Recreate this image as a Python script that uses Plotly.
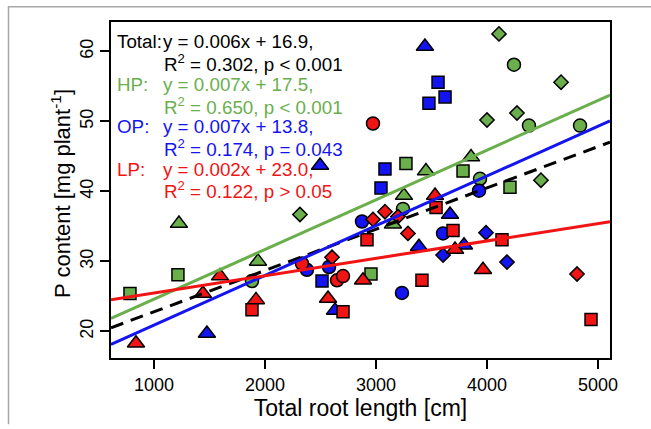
import plotly.graph_objects as go

# ---- data: total root length [cm] vs P content [mg plant-1] ----
hp_root = [4108, 4243, 4667, 4000, 4270, 4378, 4838, 3270, 3450, 3856, 3784, 3937,
           4207, 4486, 3252, 3243, 3153, 2315, 1225, 1937, 1883, 1216, 784, 2955]
hp_p = [62.5, 58.1, 55.6, 50.2, 51.2, 49.4, 49.4, 44.0, 42.9, 44.9, 42.9, 41.8,
        40.6, 41.6, 39.4, 37.5, 35.3, 36.7, 35.4, 30.0, 27.2, 28.1, 25.4, 28.2]
hp_shape = ["diamond", "circle", "diamond", "diamond", "diamond", "circle", "circle",
            "square", "triangle-up", "triangle-up", "square", "circle", "square",
            "diamond", "triangle-up", "circle", "triangle-up", "diamond",
            "triangle-up", "triangle-up", "circle", "square", "square", "square"]

op_root = [3441, 3559, 3622, 3477, 3081, 3045, 3928, 2874, 3667, 3604, 3991, 3387,
           3793, 3604, 4180, 3234, 2378, 2577, 2514, 2631, 1477, 2496]
op_p = [60.7, 55.6, 53.5, 52.6, 43.2, 40.5, 40.1, 35.7, 36.7, 34.0, 34.1, 32.1,
        32.3, 30.9, 29.9, 25.5, 28.8, 29.2, 27.2, 23.0, 19.7, 43.7]
op_shape = ["triangle-up", "square", "square", "square", "square", "square", "circle",
            "circle", "triangle-up", "circle", "diamond", "triangle-up", "triangle-up",
            "diamond", "diamond", "circle", "circle", "circle", "square",
            "triangle-up", "triangle-up", "triangle-up"]

lp_root = [2973, 3532, 3541, 2973, 3081, 3198, 3288, 2919, 3694, 4135, 3712, 3964,
           4811, 2883, 3414, 4937, 2333, 2604, 2649, 2703, 2568, 2703, 1919, 1883,
           1595, 1441, 838]
lp_p = [49.7, 39.4, 37.7, 36.0, 37.1, 36.4, 34.0, 33.1, 34.4, 33.1, 31.7, 28.8,
        28.2, 27.3, 27.3, 21.7, 29.7, 30.6, 27.3, 27.9, 24.7, 22.8, 24.5, 23.1,
        27.9, 25.4, 18.3]
lp_shape = ["circle", "triangle-up", "square", "diamond", "diamond", "diamond", "diamond",
            "square", "square", "square", "triangle-up", "triangle-up", "diamond",
            "triangle-up", "square", "square", "circle", "diamond", "circle", "circle",
            "triangle-up", "square", "triangle-up", "square", "triangle-up",
            "triangle-up", "triangle-up"]

# regression fits (slope, intercept)
fit_names = ["Total", "HP", "OP", "LP"]
fit_slope = [0.0059, 0.0071, 0.0071, 0.00248]
fit_intercept = [16.9, 17.5, 13.8, 23.0]
fit_r2 = ["0.302", "0.650", "0.174", "0.122"]
fit_p = ["p < 0.001", "p < 0.001", "p = 0.043", "p > 0.05"]

x_range = [613, 5108]
y_range = [16.2, 64.2]
x_ticks = [1000, 2000, 3000, 4000, 5000]
y_ticks = [20, 30, 40, 50, 60]

GREEN = "#6AAF4C"
BLUE = "#1414F0"
RED = "#F01414"
FONT = "Arial, Liberation Sans, sans-serif"

size_of = {"circle": 13, "square": 12, "diamond": 11, "triangle-up": 15}

fig = go.Figure()
for xs, ys, shapes, col in [(hp_root, hp_p, hp_shape, GREEN),
                            (op_root, op_p, op_shape, BLUE),
                            (lp_root, lp_p, lp_shape, RED)]:
    fig.add_trace(go.Scatter(
        x=xs, y=ys, mode="markers", showlegend=False,
        marker=dict(symbol=shapes, size=[size_of[s] for s in shapes], color=col,
                    opacity=1, line=dict(color="black", width=1.5))))

line_styles = [("black", "13px,8px"), (GREEN, "solid"), (BLUE, "solid"), (RED, "solid")]
for (col, dash), b, a in zip(line_styles, fit_slope, fit_intercept):
    fig.add_trace(go.Scatter(
        x=x_range, y=[a + b * x for x in x_range], mode="lines", showlegend=False,
        line=dict(color=col, width=3, dash=dash)))

# equation block
L, T, W, H = 111, 22, 499, 340
def px(x):
    return (x - L) / W
def py(y):
    return (T + H - y) / H

text_cols = ["black", GREEN, BLUE, RED]
labels = ["Total:", "HP:", "OP:", "LP:"]
row0 = 42
step = 21.5
FS = 18.8
for i in range(4):
    col = text_cols[i]
    eq = "y = %.3fx + %.1f," % (fit_slope[i], fit_intercept[i])
    r2 = "R<sup>2</sup> = %s, %s" % (fit_r2[i], fit_p[i])
    ya = row0 + 2 * i * step
    yb = ya + step
    fig.add_annotation(x=px(115), y=py(ya), xref="paper", yref="paper", text=labels[i],
                       showarrow=False, xanchor="left", yanchor="middle",
                       font=dict(family=FONT, size=FS, color=col))
    fig.add_annotation(x=px(161), y=py(ya), xref="paper", yref="paper", text=eq,
                       showarrow=False, xanchor="left", yanchor="middle",
                       font=dict(family=FONT, size=FS, color=col))
    fig.add_annotation(x=px(162), y=py(yb), xref="paper", yref="paper", text=r2,
                       showarrow=False, xanchor="left", yanchor="middle",
                       font=dict(family=FONT, size=FS, color=col))

# y-axis title placed as rotated text
fig.add_annotation(x=px(61), y=py(196), xref="paper", yref="paper",
                   text="P content [mg plant<sup>-1</sup>]", textangle=-90,
                   showarrow=False, xanchor="center", yanchor="middle",
                   font=dict(family=FONT, size=22, color="black"))

# thin grey frame around the figure
fig.add_shape(type="line", xref="paper", yref="paper", x0=px(8), x1=px(651),
              y0=py(6.5), y1=py(6.5), line=dict(color="#A8A8A8", width=1.5))
fig.add_shape(type="line", xref="paper", yref="paper", x0=px(8.5), x1=px(8.5),
              y0=py(6), y1=py(429), line=dict(color="#A8A8A8", width=1.5))

fig.update_layout(
    width=651, height=429,
    margin=dict(l=L, r=651 - L - W, t=T, b=429 - T - H),
    paper_bgcolor="white", plot_bgcolor="white",
    font=dict(family=FONT, color="black"),
    xaxis=dict(range=x_range, tickvals=x_ticks, ticks="outside", ticklen=9, tickwidth=1.5,
               tickcolor="black", showline=True, linecolor="black", linewidth=2,
               mirror=True, showgrid=False, zeroline=False,
               tickfont=dict(size=18, family=FONT),
               title=dict(text="Total root length [cm]", font=dict(size=23, family=FONT),
                          standoff=6)),
    yaxis=dict(range=y_range, tickvals=y_ticks, ticks="outside", ticklen=9, tickwidth=1.5,
               tickcolor="black", showline=True, linecolor="black", linewidth=2,
               mirror=True, showgrid=False, zeroline=False, tickangle=-90,
               tickfont=dict(size=18, family=FONT)),
)

fig.write_html("out.html")
